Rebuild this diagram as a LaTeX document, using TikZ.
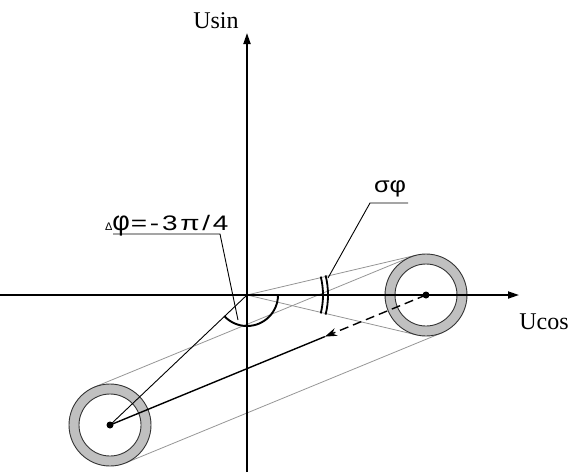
\documentclass[tikz,border=0pt]{standalone}
\usepackage{fontspec}
\setmainfont{Liberation Serif}
\newfontfamily\lsans{Liberation Sans}
\newfontfamily\lsansls[LetterSpace=10]{Liberation Sans}
\usetikzlibrary{calc,arrows.meta}
\definecolor{ringgray}{RGB}{192,192,192}
\definecolor{tangray}{RGB}{150,150,150}
\pgfdeclarelayer{background}
\pgfsetlayers{background,main}
\begin{document}
\begin{tikzpicture}[x=1pt,y=-1pt,
  axis/.style={line width=1.8pt, -{Triangle[length=11pt,width=7pt]}},
  ring/.style={circle, draw=black!80, line width=0.9pt, fill=ringgray, minimum size=82pt, inner sep=0pt, outer sep=0pt},
  hole/.style={circle, draw=black!80, line width=0.9pt, fill=white, minimum size=62pt, inner sep=0pt, outer sep=0pt},
  dot/.style={circle, fill=black, minimum size=7pt, inner sep=0pt},
  tang/.style={draw=tangray, line width=0.8pt},
  thinblack/.style={draw=black, line width=0.9pt},
  vecline/.style={draw=black, line width=1.4pt},
  sigarc/.style={draw=black, line width=1.8pt},
  angarc/.style={draw=black, line width=1.9pt},
  lbl/.style={inner sep=0pt, outer sep=0pt}
]
\useasboundingbox (0,0) rectangle (572,472);
\coordinate (O) at (247,295);

% axes
\coordinate (xs) at (0,295);
\coordinate (xe) at (519,295);
\coordinate (ys) at (247,472);
\coordinate (ye) at (247,33);

% rings
\node[ring] (RR) at (426,295) {};
\node[hole] (RH) at (426,295) {};
\node[ring] (LR) at (110,425) {};
\node[hole] (LH) at (110,425) {};

% gray tangent lines
\begin{pgfonlayer}{background}
\coordinate (LU) at ($(LR.center)!41pt!90:(RR.center)$);
\coordinate (RU) at ($(RR.center)!41pt!-90:(LR.center)$);
\coordinate (LD) at ($(LR.center)!41pt!-90:(RR.center)$);
\coordinate (RD) at ($(RR.center)!41pt!90:(LR.center)$);
\draw[tang] (LU) -- (RU);
\draw[tang] (LD) -- (RD);
\coordinate (T1) at (tangent cs:node=RR,point={(O)},solution=1);
\coordinate (T2) at (tangent cs:node=RR,point={(O)},solution=2);
\draw[tang] (O) -- (T1);
\draw[tang] (O) -- (T2);
\end{pgfonlayer}

\draw[axis] (xs) -- (xe);
\draw[axis] (ys) -- (ye);

\node[dot] (Rc) at (426,295) {};
\node[dot] (Lc) at (110,425) {};

% vector
\coordinate (tip) at ($(Lc.center)!0.68!(Rc.center)$);
\draw[thinblack] (O) -- (Lc.center);
\draw[vecline] (Lc.center) -- (tip);
\draw[vecline, dash pattern=on 9pt off 5pt, -{Stealth[length=12pt,width=8pt]}] (Rc.center) -- (tip);

% angle arc
\draw[angarc] ($(O)+(0:31)$) arc[start angle=0, end angle=137, radius=31];

% sigma arcs
\draw[sigarc] ($(O)+(-14:76)$) arc[start angle=-14, end angle=14, radius=76];
\draw[sigarc] ($(O)+(-14:81)$) arc[start angle=-14, end angle=14, radius=81];

% labels
\node[lbl, anchor=center] (usin) at (216,21) {\fontsize{24}{24}\selectfont Usin};
\node[lbl, anchor=center] (ucos) at (544,322) {\fontsize{24}{24}\selectfont Ucos};

\node[lbl, anchor=base west] (dphi) at (105,230)
  {{\lsans\fontsize{11}{11}\selectfont Δ}{\lsans\fontsize{27}{27}\selectfont φ}\hspace{1pt}\scalebox{1.33}[1]{\lsansls\fontsize{21}{21}\selectfont =-3π/4}};
\coordinate (d1) at (113,234);
\coordinate (d2) at (220,234);
\coordinate (d3) at (238,320);
\draw[thinblack] (d1) -- (d2) -- (d3);

\node[lbl, anchor=base west] (sphi) at (374,192) {\scalebox{1.15}[1]{\lsans\fontsize{22}{22}\selectfont σφ}};
\coordinate (s1) at (408,203);
\coordinate (s2) at (370,203);
\coordinate (s3) at (328,278);
\draw[thinblack] (s1) -- (s2) -- (s3);
\end{tikzpicture}
\end{document}
